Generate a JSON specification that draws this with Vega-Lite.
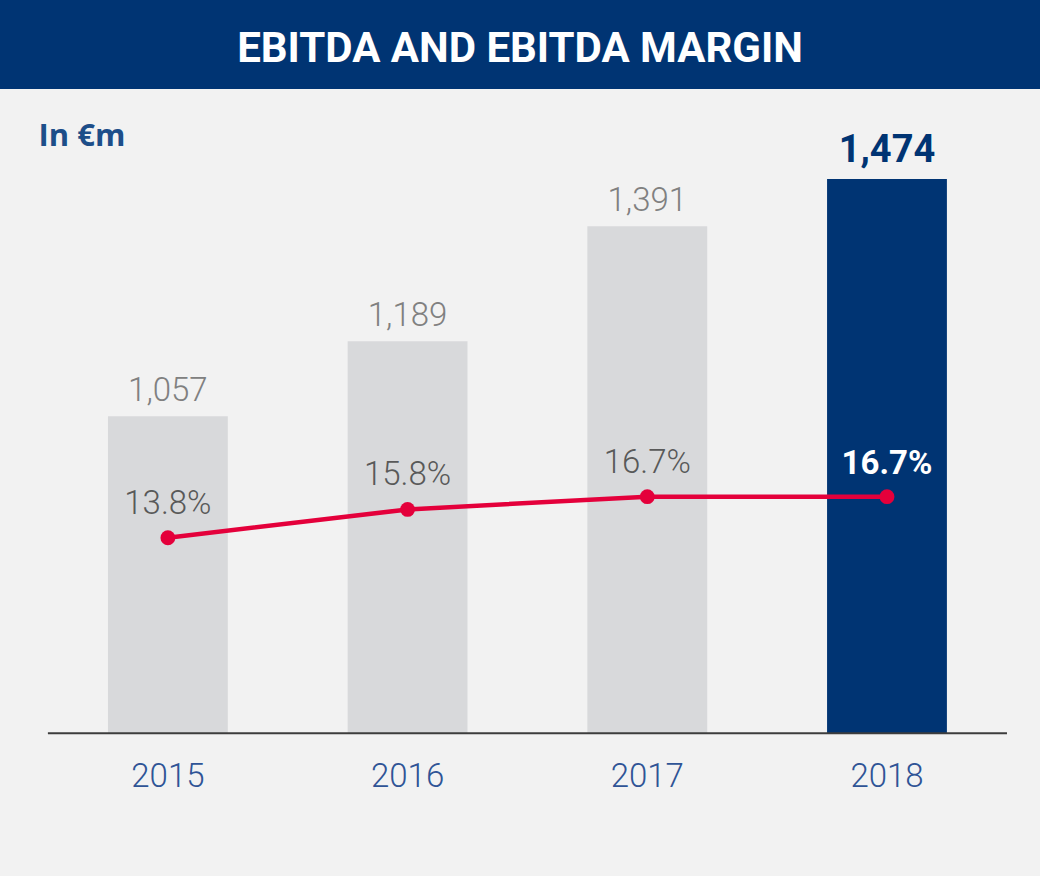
{
  "$schema": "https://vega.github.io/schema/vega-lite/v6.json",
  "width": 1040,
  "height": 787,
  "autosize": {"type": "none"},
  "padding": {"top": 89, "left": 0, "right": 0, "bottom": 0},
  "background": "#003473",
  "config": {"view": {"fill": "#f2f2f2", "stroke": null}},
  "title": {
    "text": "EBITDA AND EBITDA MARGIN",
    "color": "#ffffff",
    "font": "Roboto",
    "fontSize": 42,
    "fontWeight": "bold",
    "anchor": "middle",
    "orient": "top",
    "baseline": "alphabetic",
    "offset": -15
  },
  "data": {
    "values": [
      {"year": "2015", "ebitda": 1057, "margin": 0.138},
      {"year": "2016", "ebitda": 1189, "margin": 0.158},
      {"year": "2017", "ebitda": 1391, "margin": 0.167},
      {"year": "2018", "ebitda": 1474, "margin": 0.167}
    ]
  },
  "encoding": {
    "x": {
      "field": "year",
      "type": "nominal",
      "scale": {"paddingInner": 0.5, "paddingOuter": 0.4194, "align": 0.537, "round": false},
      "axis": null
    }
  },
  "layer": [
    {
      "layer": [
        {
          "mark": {"type": "bar"},
          "encoding": {
            "y": {
              "field": "ebitda",
              "type": "quantitative",
              "scale": {"domain": [249.2, 1632.3], "nice": false, "zero": false},
              "axis": {"title": "In €m", "domain": false, "ticks": false, "labels": false, "grid": false, "titleAngle": 0, "titleAlign": "left", "titleBaseline": "alphabetic", "titleX": 38, "titleY": 56, "titleFont": "Open Sans", "titleFontSize": 31, "titleFontWeight": "bold", "titleColor": "#1d4e89"}
            },
            "y2": {"datum": 500},
            "color": {"condition": {"test": "datum.year == '2018'", "value": "#003473"}, "value": "#d8d9db"}
          }
        },
        {
          "transform": [{"filter": "datum.year == '2015'"}],
          "mark": {"type": "rule", "color": "#3d3d3d", "strokeWidth": 2, "xOffset": -120, "x2Offset": 120},
          "encoding": {
            "x": {"datum": "2015", "type": "nominal"},
            "x2": {"datum": "2018"},
            "y": {
              "datum": 500,
              "type": "quantitative",
              "scale": {"domain": [249.2, 1632.3], "nice": false, "zero": false},
              "axis": {"title": "In €m", "domain": false, "ticks": false, "labels": false, "grid": false, "titleAngle": 0, "titleAlign": "left", "titleBaseline": "alphabetic", "titleX": 38, "titleY": 56, "titleFont": "Open Sans", "titleFontSize": 31, "titleFontWeight": "bold", "titleColor": "#1d4e89"}
            }
          }
        },
        {
          "transform": [{"filter": "datum.year != '2018'"}],
          "mark": {"type": "text", "baseline": "alphabetic", "dy": -15, "font": "Roboto", "fontSize": 33, "fontWeight": 300, "color": "#808080"},
          "encoding": {
            "y": {
              "field": "ebitda",
              "type": "quantitative",
              "scale": {"domain": [249.2, 1632.3], "nice": false, "zero": false},
              "axis": {"title": "In €m", "domain": false, "ticks": false, "labels": false, "grid": false, "titleAngle": 0, "titleAlign": "left", "titleBaseline": "alphabetic", "titleX": 38, "titleY": 56, "titleFont": "Open Sans", "titleFontSize": 31, "titleFontWeight": "bold", "titleColor": "#1d4e89"}
            },
            "text": {"field": "ebitda", "type": "quantitative", "format": ",.0f"}
          }
        },
        {
          "transform": [{"filter": "datum.year == '2018'"}],
          "mark": {"type": "text", "baseline": "alphabetic", "dy": -17, "font": "Roboto", "fontSize": 38, "fontWeight": "bold", "color": "#003473"},
          "encoding": {
            "y": {
              "field": "ebitda",
              "type": "quantitative",
              "scale": {"domain": [249.2, 1632.3], "nice": false, "zero": false},
              "axis": {"title": "In €m", "domain": false, "ticks": false, "labels": false, "grid": false, "titleAngle": 0, "titleAlign": "left", "titleBaseline": "alphabetic", "titleX": 38, "titleY": 56, "titleFont": "Open Sans", "titleFontSize": 31, "titleFontWeight": "bold", "titleColor": "#1d4e89"}
            },
            "text": {"field": "ebitda", "type": "quantitative", "format": ",.0f"}
          }
        },
        {
          "mark": {"type": "text", "baseline": "alphabetic", "dy": 54, "font": "Roboto", "fontSize": 33, "fontWeight": 300, "color": "#2f5496"},
          "encoding": {
            "y": {
              "datum": 500,
              "type": "quantitative",
              "scale": {"domain": [249.2, 1632.3], "nice": false, "zero": false},
              "axis": {"title": "In €m", "domain": false, "ticks": false, "labels": false, "grid": false, "titleAngle": 0, "titleAlign": "left", "titleBaseline": "alphabetic", "titleX": 38, "titleY": 56, "titleFont": "Open Sans", "titleFontSize": 31, "titleFontWeight": "bold", "titleColor": "#1d4e89"}
            },
            "text": {"field": "year", "type": "nominal"}
          }
        }
      ]
    },
    {
      "layer": [
        {
          "mark": {"type": "line", "color": "#e4003b", "strokeWidth": 4.5},
          "encoding": {
            "y": {"field": "margin", "type": "quantitative", "scale": {"domain": [-0.1007, 0.4547], "nice": false, "zero": false}, "axis": null}
          }
        },
        {
          "mark": {"type": "point", "filled": true, "opacity": 1, "color": "#e4003b", "size": 220},
          "encoding": {
            "y": {"field": "margin", "type": "quantitative", "scale": {"domain": [-0.1007, 0.4547], "nice": false, "zero": false}, "axis": null}
          }
        },
        {
          "transform": [{"filter": "datum.year != '2018'"}],
          "mark": {"type": "text", "baseline": "alphabetic", "dy": -24, "font": "Roboto", "fontSize": 33, "fontWeight": 300, "color": "#595959"},
          "encoding": {
            "y": {"field": "margin", "type": "quantitative", "scale": {"domain": [-0.1007, 0.4547], "nice": false, "zero": false}, "axis": null},
            "text": {"field": "margin", "type": "quantitative", "format": ".1%"}
          }
        },
        {
          "transform": [{"filter": "datum.year == '2018'"}],
          "mark": {"type": "text", "baseline": "alphabetic", "dy": -23, "font": "Roboto", "fontSize": 33, "fontWeight": "bold", "color": "#ffffff"},
          "encoding": {
            "y": {"field": "margin", "type": "quantitative", "scale": {"domain": [-0.1007, 0.4547], "nice": false, "zero": false}, "axis": null},
            "text": {"field": "margin", "type": "quantitative", "format": ".1%"}
          }
        }
      ]
    }
  ],
  "resolve": {"scale": {"y": "independent"}}
}
